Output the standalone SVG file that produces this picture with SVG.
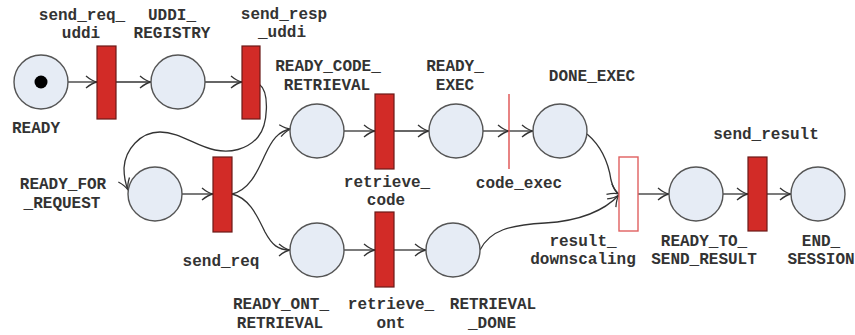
<svg xmlns="http://www.w3.org/2000/svg" width="855" height="335" viewBox="0 0 855 335">
<defs>
<marker id="arr" markerUnits="userSpaceOnUse" markerWidth="14" markerHeight="14" viewBox="-12 -7 14 14" refX="0" refY="0" orient="auto">
<path d="M-11,-6 Q-5,-1 0,0 Q-5,1 -11,6" fill="none" stroke="#333" stroke-width="1.3"/>
</marker>
</defs>
<style>
.pl{fill:#e6ecf5;stroke:#555;stroke-width:1.4}
.tr{fill:#d22b27;stroke:#6b1a18;stroke-width:1.2}
.trh{fill:#fff;stroke:#e06060;stroke-width:1.4}
.c{fill:none;stroke:#333;stroke-width:1.3;marker-end:url(#arr)}
text{font-family:"Liberation Mono","Courier New",monospace;font-weight:bold;font-size:16px;fill:#333;text-anchor:middle}
</style>
<g id="connectors">
<path class="c" d="M67,82 L97,82"/>
<path class="c" d="M116,82 L151,82"/>
<path class="c" d="M205,82 L242,82"/>
<path class="c" d="M259,84 C270,92 268,125 258,137 C247,150 230,153 215,150 C195,146 180,132 160,132 C140,132 125,150 124,168 C124,178 126,185 128,190"/>
<path class="c" d="M182,194 L213,194"/>
<path class="c" d="M232,194 C250,190 258,170 265,155 C272,140 278,131 291,129"/>
<path class="c" d="M232,194 C250,198 258,218 265,232 C272,245 278,250 290,250"/>
<path class="c" d="M344,131 L375,131"/>
<path class="c" d="M394,131 L429,131"/>
<path class="c" d="M483,131 L509,131"/>
<path class="c" d="M509,131 L533,131"/>
<path class="c" d="M344,250 L375,250"/>
<path class="c" d="M394,250 L426,250"/>
<path class="c" d="M587,134 C600,145 608,160 611,180 C613,188 615,192 619,194"/>
<path class="c" d="M480,250 C490,230 510,225 545,223 C580,221 605,210 619,195"/>
<path class="c" d="M638,194 L669,194"/>
<path class="c" d="M723,194 L748,194"/>
<path class="c" d="M767,194 L791,194"/>
</g>
<g id="READY"><circle class="pl" cx="41" cy="82" r="27"/><circle cx="41" cy="82" r="6.5" fill="#000"/><text x="36" y="133">READY</text></g>
<g id="send_req_uddi"><rect class="tr" x="97" y="46" width="19" height="73"/><text x="82" y="20">send_req_</text><text x="81" y="38">uddi</text></g>
<g id="UDDI_REGISTRY"><circle class="pl" cx="178" cy="82" r="27"/><text x="172" y="20">UDDI_</text><text x="172" y="38">REGISTRY</text></g>
<g id="send_resp_uddi"><rect class="tr" x="242" y="46" width="18" height="73"/><text x="284" y="19">send_resp</text><text x="282" y="37">_uddi</text></g>
<g id="READY_FOR_REQUEST"><circle class="pl" cx="155" cy="194" r="27"/><text x="63" y="189">READY_FOR</text><text x="62" y="208">_REQUEST</text></g>
<g id="send_req"><rect class="tr" x="213" y="157" width="19" height="75"/><text x="221" y="266">send_req</text></g>
<g id="READY_CODE_RETRIEVAL"><circle class="pl" cx="317" cy="131" r="27"/><text x="328" y="71">READY_CODE_</text><text x="327" y="90">RETRIEVAL</text></g>
<g id="retrieve_code"><rect class="tr" x="375" y="94" width="19" height="75"/><text x="387" y="187">retrieve_</text><text x="386" y="205">code</text></g>
<g id="READY_EXEC"><circle class="pl" cx="456" cy="131" r="27"/><text x="455" y="71">READY_</text><text x="455" y="90">EXEC</text></g>
<g id="code_exec"><line x1="509" y1="94" x2="509" y2="169" stroke="#e05a5a" stroke-width="1.5"/><text x="519" y="188">code_exec</text></g>
<g id="DONE_EXEC"><circle class="pl" cx="560" cy="131" r="27"/><text x="592" y="81">DONE_EXEC</text></g>
<g id="READY_ONT_RETRIEVAL"><circle class="pl" cx="317" cy="250" r="27"/><text x="281" y="309">READY_ONT_</text><text x="280" y="328">RETRIEVAL</text></g>
<g id="retrieve_ont"><rect class="tr" x="375" y="212" width="19" height="75"/><text x="391" y="309">retrieve_</text><text x="391" y="328">ont</text></g>
<g id="RETRIEVAL_DONE"><circle class="pl" cx="453" cy="250" r="27"/><text x="493" y="309">RETRIEVAL</text><text x="492" y="328">_DONE</text></g>
<g id="result_downscaling"><rect class="trh" x="619" y="157" width="19" height="74"/><text x="583" y="246">result_</text><text x="583" y="264">downscaling</text></g>
<g id="READY_TO_SEND_RESULT"><circle class="pl" cx="696" cy="194" r="27"/><text x="704" y="246">READY_TO_</text><text x="704" y="264">SEND_RESULT</text></g>
<g id="send_result"><rect class="tr" x="748" y="157" width="19" height="74"/><text x="766" y="139">send_result</text></g>
<g id="END_SESSION"><circle class="pl" cx="818" cy="194" r="27"/><text x="821" y="246">END_</text><text x="821" y="264">SESSION</text></g>
</svg>
